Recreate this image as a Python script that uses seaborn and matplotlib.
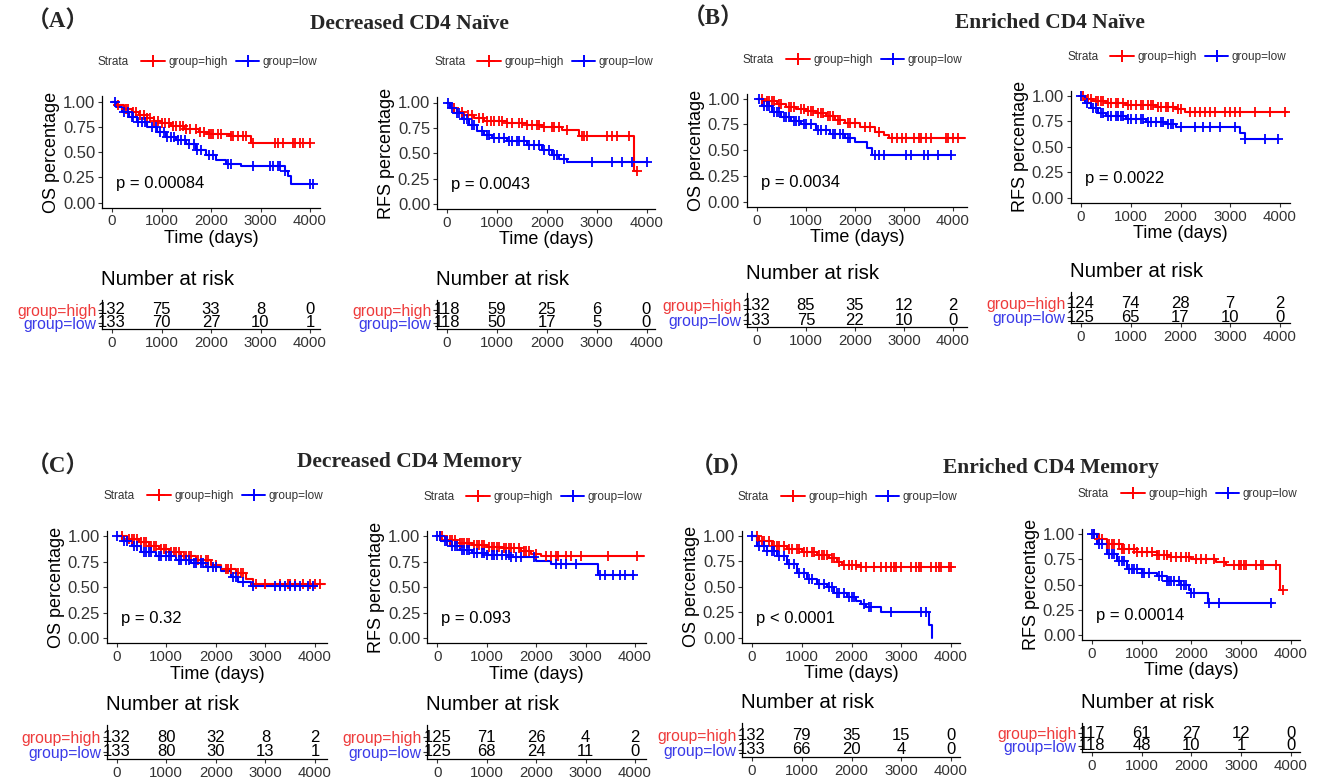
import numpy as np
import pandas as pd
import matplotlib
matplotlib.use("Agg")
import matplotlib.pyplot as plt
from matplotlib.lines import Line2D
import seaborn as sns

# ---------------- data ----------------
RISK_TIMES = [0, 1000, 2000, 3000, 4000]
GROUPS = ["group=high", "group=low"]
COLORS = ["#FF0000", "#0000FF"]

# (A) Decreased CD4 Naive - OS
A_OS_HI_T = [0, 100, 250, 400, 550, 700, 850, 1000, 1200, 1450, 1750, 1950, 2400, 2800, 4000]
A_OS_HI_S = [1.00, 0.97, 0.93, 0.90, 0.87, 0.84, 0.81, 0.79, 0.76, 0.73, 0.70, 0.68, 0.66, 0.59, 0.59]
A_OS_HI_C = [120, 280, 330, 420, 480, 560, 640, 700, 760, 850, 920, 1000, 1080, 1150, 1230, 1300, 1380,
             1430, 1500, 1580, 1700, 1780, 1850, 1950, 2000, 2050, 2150, 2200, 2400, 2450, 2550, 2650,
             2700, 2850, 3300, 3350, 3450, 3650, 3700, 3800, 3850, 4000]
A_OS_LO_T = [0, 80, 200, 350, 500, 700, 900, 1100, 1300, 1500, 1700, 1900, 2100, 2300, 2600, 3500, 3560, 3620, 4060]
A_OS_LO_S = [1.00, 0.95, 0.90, 0.85, 0.80, 0.75, 0.70, 0.65, 0.62, 0.58, 0.52, 0.47, 0.42, 0.38, 0.36, 0.31, 0.26, 0.18, 0.18]
A_OS_LO_C = [60, 250, 330, 400, 430, 520, 600, 660, 800, 880, 960, 1050, 1120, 1200, 1250, 1330, 1400,
             1480, 1550, 1650, 1720, 1800, 1950, 2050, 2350, 2400, 2850, 3200, 3250, 3350, 3400, 3500, 4000, 4060]
A_OS_RISK_HI = [132, 75, 33, 8, 0]
A_OS_RISK_LO = [133, 70, 27, 10, 1]

# (A) Decreased CD4 Naive - RFS
A_RFS_HI_T = [0, 80, 200, 350, 550, 750, 1200, 1600, 1900, 2300, 2650, 3750, 3800]
A_RFS_HI_S = [1.00, 0.95, 0.91, 0.88, 0.85, 0.82, 0.80, 0.78, 0.76, 0.73, 0.67, 0.33, 0.33]
A_RFS_HI_C = [150, 300, 420, 500, 650, 720, 800, 880, 950, 1050, 1100, 1200, 1300, 1450, 1500, 1600,
              1700, 1800, 1850, 1950, 2100, 2150, 2250, 2400, 2700, 2750, 2800, 3200, 3300, 3400, 3650, 3800]
A_RFS_LO_T = [0, 60, 150, 300, 450, 600, 750, 900, 1200, 1600, 1900, 2100, 2250, 2400, 4000]
A_RFS_LO_S = [1.00, 0.95, 0.90, 0.84, 0.78, 0.72, 0.68, 0.65, 0.62, 0.58, 0.53, 0.48, 0.44, 0.41, 0.41]
A_RFS_LO_C = [30, 100, 200, 250, 350, 400, 500, 550, 700, 800, 850, 950, 1050, 1150, 1250, 1300, 1400,
              1450, 1550, 1650, 1750, 1850, 1950, 2050, 2150, 2200, 2350, 2900, 3300, 3500, 3700, 4000]
A_RFS_RISK_HI = [118, 59, 25, 6, 0]
A_RFS_RISK_LO = [118, 50, 17, 5, 0]

# (B) Enriched CD4 Naive - OS
B_OS_HI_T = [0, 150, 400, 600, 800, 1000, 1200, 1400, 1600, 1800, 2100, 2400, 2600, 2700, 4250]
B_OS_HI_S = [1.00, 0.98, 0.95, 0.92, 0.90, 0.88, 0.86, 0.83, 0.79, 0.76, 0.73, 0.68, 0.65, 0.62, 0.62]
B_OS_HI_C = [100, 200, 250, 300, 350, 450, 500, 650, 700, 750, 900, 950, 1050, 1100, 1150, 1250, 1300,
             1350, 1450, 1500, 1550, 1650, 1700, 1850, 1900, 2000, 2200, 2300, 2500, 2750, 2850, 2950,
             3050, 3200, 3300, 3350, 3450, 3550, 3850, 3900, 4000, 4100]
B_OS_LO_T = [0, 100, 300, 500, 700, 900, 1200, 1500, 1800, 2000, 2250, 2350, 3950]
B_OS_LO_S = [1.00, 0.93, 0.87, 0.82, 0.78, 0.75, 0.70, 0.66, 0.62, 0.58, 0.52, 0.45, 0.45]
B_OS_LO_C = [50, 150, 200, 250, 350, 400, 450, 550, 600, 650, 750, 800, 850, 950, 1000, 1100, 1250,
             1300, 1400, 1550, 1600, 1700, 1750, 1850, 1900, 2400, 2500, 2600, 3050, 3150, 3400, 3500, 3700, 3950]
B_OS_RISK_HI = [132, 85, 35, 12, 2]
B_OS_RISK_LO = [133, 75, 22, 10, 0]

# (B) Enriched CD4 Naive - RFS
B_RFS_HI_T = [0, 100, 250, 500, 900, 1500, 1900, 2100, 4150]
B_RFS_HI_S = [1.00, 0.97, 0.95, 0.93, 0.91, 0.89, 0.87, 0.84, 0.84]
B_RFS_HI_C = [50, 150, 200, 300, 350, 400, 450, 550, 600, 700, 750, 850, 950, 1000, 1100, 1200, 1250,
              1350, 1400, 1450, 1550, 1600, 1700, 1750, 1850, 1950, 2000, 2200, 2300, 2400, 2500, 2600,
              2700, 2900, 3000, 3100, 3200, 3500, 3800, 4100]
B_RFS_LO_T = [0, 80, 200, 350, 500, 900, 1300, 1700, 1900, 3200, 3300, 3950]
B_RFS_LO_S = [1.00, 0.93, 0.88, 0.83, 0.80, 0.77, 0.74, 0.72, 0.69, 0.64, 0.58, 0.58]
B_RFS_LO_C = [0, 120, 250, 300, 400, 450, 550, 600, 700, 750, 800, 850, 950, 1000, 1100, 1200, 1250,
              1350, 1400, 1500, 1600, 1650, 1750, 1800, 1850, 2000, 2300, 2450, 2600, 2800, 3100, 3300, 3700, 3950]
B_RFS_RISK_HI = [124, 74, 28, 7, 2]
B_RFS_RISK_LO = [125, 65, 17, 10, 0]

# (C) Decreased CD4 Memory - OS
C_OS_HI_T = [0, 200, 450, 650, 850, 1050, 1300, 1600, 1900, 2100, 2400, 2600, 2750, 4200]
C_OS_HI_S = [1.00, 0.97, 0.94, 0.90, 0.87, 0.84, 0.80, 0.77, 0.72, 0.68, 0.64, 0.58, 0.53, 0.53]
C_OS_HI_C = [100, 250, 300, 350, 400, 500, 550, 600, 700, 750, 800, 900, 950, 1000, 1100, 1150, 1200,
             1250, 1350, 1400, 1450, 1500, 1650, 1700, 1800, 1850, 2000, 2200, 2250, 2300, 2450, 2500,
             2550, 2800, 3000, 3300, 3450, 3500, 3600, 3750, 3900, 4000, 4100]
C_OS_LO_T = [0, 100, 300, 500, 800, 1200, 1500, 1800, 2100, 2300, 2450, 2700, 4050]
C_OS_LO_S = [1.00, 0.95, 0.90, 0.84, 0.80, 0.77, 0.74, 0.70, 0.66, 0.60, 0.55, 0.51, 0.51]
C_OS_LO_C = [0, 150, 200, 350, 400, 550, 600, 650, 700, 850, 900, 1000, 1050, 1100, 1250, 1300, 1400,
             1450, 1550, 1600, 1700, 1750, 1850, 1950, 2000, 2350, 2400, 2550, 2750, 3200, 3300, 3400,
             3500, 3600, 3700, 3850, 3950]
C_OS_RISK_HI = [132, 80, 32, 8, 2]
C_OS_RISK_LO = [133, 80, 30, 13, 1]

# (C) Decreased CD4 Memory - RFS
C_RFS_HI_T = [0, 150, 400, 700, 1000, 1300, 1700, 1900, 2100, 4180]
C_RFS_HI_S = [1.00, 0.96, 0.93, 0.91, 0.89, 0.88, 0.85, 0.82, 0.80, 0.80]
C_RFS_HI_C = [50, 100, 200, 250, 300, 350, 450, 500, 550, 600, 650, 750, 800, 850, 900, 950, 1050, 1100,
              1150, 1200, 1250, 1350, 1400, 1450, 1500, 1550, 1650, 1750, 1800, 1850, 2000, 2200, 2300,
              2400, 2450, 2600, 2700, 2900, 3450, 4050]
C_RFS_LO_T = [0, 80, 250, 450, 700, 1000, 1500, 2000, 2300, 3250, 3980]
C_RFS_LO_S = [1.00, 0.95, 0.90, 0.86, 0.83, 0.81, 0.79, 0.76, 0.73, 0.62, 0.62]
C_RFS_LO_C = [0, 50, 150, 200, 300, 350, 400, 500, 550, 600, 650, 750, 800, 900, 950, 1000, 1100, 1150,
              1200, 1300, 1400, 1450, 1500, 1600, 1700, 1950, 2400, 2500, 2600, 2800, 3300, 3400, 3550,
              3700, 3800, 3950]
C_RFS_RISK_HI = [125, 71, 26, 4, 2]
C_RFS_RISK_LO = [125, 68, 24, 11, 0]

# (D) Enriched CD4 Memory - OS
D_OS_HI_T = [0, 150, 400, 700, 1000, 1300, 1550, 1700, 1800, 2200, 4000]
D_OS_HI_S = [1.00, 0.95, 0.90, 0.87, 0.84, 0.81, 0.78, 0.74, 0.71, 0.70, 0.70]
D_OS_HI_C = [100, 200, 250, 350, 450, 500, 550, 650, 750, 800, 900, 950, 1050, 1100, 1200, 1250, 1350,
             1400, 1450, 1500, 1600, 1650, 1750, 1850, 1950, 2000, 2100, 2200, 2300, 2450, 2600, 2700,
             2800, 2850, 2900, 3000, 3200, 3300, 3350, 3400, 3600, 3700, 3750, 3800, 3950, 4000]
D_OS_LO_T = [0, 100, 300, 500, 700, 900, 1100, 1300, 1500, 1650, 1900, 2100, 2200, 2300, 2600, 3560, 3620]
D_OS_LO_S = [1.00, 0.90, 0.85, 0.80, 0.72, 0.64, 0.58, 0.53, 0.50, 0.44, 0.40, 0.36, 0.33, 0.30, 0.25, 0.12, 0.00]
D_OS_LO_C = [0, 150, 250, 300, 400, 450, 550, 650, 750, 850, 950, 1050, 1150, 1200, 1350, 1450, 1550,
             1600, 1700, 1750, 1850, 1950, 2000, 2050, 2250, 2350, 2400, 2800, 3400, 3500]
D_OS_RISK_HI = [132, 79, 35, 15, 0]
D_OS_RISK_LO = [133, 66, 20, 4, 0]

# (D) Enriched CD4 Memory - RFS
D_RFS_HI_T = [0, 150, 300, 600, 900, 1300, 1600, 2000, 2500, 2700, 3780, 3850]
D_RFS_HI_S = [1.00, 0.95, 0.90, 0.85, 0.82, 0.79, 0.77, 0.75, 0.72, 0.70, 0.45, 0.45]
D_RFS_HI_C = [50, 150, 200, 300, 350, 400, 450, 550, 600, 650, 750, 850, 900, 1000, 1100, 1200, 1300,
              1350, 1450, 1500, 1600, 1700, 1800, 1900, 1950, 2100, 2200, 2300, 2450, 2650, 2850, 2950,
              3000, 3050, 3100, 3300, 3400, 3450, 3700, 3850]
D_RFS_LO_T = [0, 100, 300, 500, 700, 1000, 1300, 1500, 1800, 1950, 2000, 2330, 3650]
D_RFS_LO_S = [1.00, 0.90, 0.80, 0.73, 0.66, 0.62, 0.59, 0.54, 0.50, 0.45, 0.42, 0.32, 0.32]
D_RFS_LO_C = [0, 50, 150, 200, 350, 400, 450, 550, 600, 650, 750, 800, 850, 900, 1000, 1050, 1150, 1350,
              1400, 1500, 1550, 1600, 1650, 1750, 1800, 1850, 1900, 2000, 2050, 2350, 2550, 3600]
D_RFS_RISK_HI = [117, 61, 27, 12, 0]
D_RFS_RISK_LO = [118, 48, 10, 1, 0]

# ---------------- layout (pixel positions in the 1317x781 canvas) ----------------
PANELS = [
    dict(ylab="OS percentage", p="p = 0.00084", x0=112, x4=310, tmax=4000, y1=101.5, y0=202.5,
         rows=(310, 323), leg=(98, 62),
         hi=(A_OS_HI_T, A_OS_HI_S, A_OS_HI_C), lo=(A_OS_LO_T, A_OS_LO_S, A_OS_LO_C),
         risk=(A_OS_RISK_HI, A_OS_RISK_LO)),
    dict(ylab="RFS percentage", p="p = 0.0043", x0=447, x4=646.5, tmax=3970, y1=102.5, y0=204,
         rows=(310, 323), leg=(434, 62),
         hi=(A_RFS_HI_T, A_RFS_HI_S, A_RFS_HI_C), lo=(A_RFS_LO_T, A_RFS_LO_S, A_RFS_LO_C),
         risk=(A_RFS_RISK_HI, A_RFS_RISK_LO)),
    dict(ylab="OS percentage", p="p = 0.0034", x0=757, x4=953, tmax=4080, y1=98.7, y0=201.7,
         rows=(305, 320), leg=(743, 60),
         hi=(B_OS_HI_T, B_OS_HI_S, B_OS_HI_C), lo=(B_OS_LO_T, B_OS_LO_S, B_OS_LO_C),
         risk=(B_OS_RISK_HI, B_OS_RISK_LO)),
    dict(ylab="RFS percentage", p="p = 0.0022", x0=1081, x4=1280, tmax=4000, y1=95.7, y0=198,
         rows=(303, 317), leg=(1067, 57),
         hi=(B_RFS_HI_T, B_RFS_HI_S, B_RFS_HI_C), lo=(B_RFS_LO_T, B_RFS_LO_S, B_RFS_LO_C),
         risk=(B_RFS_RISK_HI, B_RFS_RISK_LO)),
    dict(ylab="OS percentage", p="p = 0.32", x0=116.7, x4=315, tmax=4040, y1=536, y0=638.3,
         rows=(737, 752), leg=(104, 496),
         hi=(C_OS_HI_T, C_OS_HI_S, C_OS_HI_C), lo=(C_OS_LO_T, C_OS_LO_S, C_OS_LO_C),
         risk=(C_OS_RISK_HI, C_OS_RISK_LO)),
    dict(ylab="RFS percentage", p="p = 0.093", x0=437.3, x4=635, tmax=4020, y1=536, y0=638.3,
         rows=(737, 752), leg=(423, 497),
         hi=(C_RFS_HI_T, C_RFS_HI_S, C_RFS_HI_C), lo=(C_RFS_LO_T, C_RFS_LO_S, C_RFS_LO_C),
         risk=(C_RFS_RISK_HI, C_RFS_RISK_LO)),
    dict(ylab="OS percentage", p="p < 0.0001", x0=752, x4=951, tmax=3980, y1=536, y0=637.7,
         rows=(735, 750), leg=(738, 497),
         hi=(D_OS_HI_T, D_OS_HI_S, D_OS_HI_C), lo=(D_OS_LO_T, D_OS_LO_S, D_OS_LO_C),
         risk=(D_OS_RISK_HI, D_OS_RISK_LO)),
    dict(ylab="RFS percentage", p="p = 0.00014", x0=1092, x4=1290.7, tmax=3990, y1=534.3, y0=635,
         rows=(733, 746), leg=(1078, 494),
         hi=(D_RFS_HI_T, D_RFS_HI_S, D_RFS_HI_C), lo=(D_RFS_LO_T, D_RFS_LO_S, D_RFS_LO_C),
         risk=(D_RFS_RISK_HI, D_RFS_RISK_LO)),
]

TITLES = [("Decreased CD4 Naïve", 409, 24), ("Enriched CD4 Naïve", 1050, 23),
          ("Decreased CD4 Memory", 409, 462), ("Enriched CD4 Memory", 1051, 468)]
TAGS = [("（A）", 58, 22), ("（B）", 713, 19), ("（C）", 58, 467), ("（D）", 722, 468)]

# ---------------- drawing ----------------
sns.set_theme(style="ticks")
plt.rcParams["font.family"] = ["Liberation Sans", "DejaVu Sans"]
SERIF = ["Liberation Serif", "Noto Sans CJK SC", "DejaVu Serif"]
TXT = "#333333"

W, H = 1317, 781
fig = plt.figure(figsize=(W / 100, H / 100), dpi=100)
fig.patch.set_facecolor("white")


def px_axes(left, top, right, bottom):
    return fig.add_axes([left / W, 1 - bottom / H, (right - left) / W, (bottom - top) / H])


def step_at(t, s, c):
    idx = np.searchsorted(np.asarray(t), np.asarray(c), side="right") - 1
    return np.asarray(s)[idx]


def style_axis(ax):
    for side in ("left", "bottom"):
        ax.spines[side].set_color("black")
        ax.spines[side].set_linewidth(0.9)
    ax.tick_params(length=3, width=0.8, color="#333333", pad=2)
    sns.despine(ax=ax)


for p in PANELS:
    sc = (p["x4"] - p["x0"]) / 4000
    xl = (-0.05 * p["tmax"], 1.05 * p["tmax"])
    left, right = p["x0"] + xl[0] * sc, p["x0"] + xl[1] * sc
    ys = p["y0"] - p["y1"]

    # survival curves
    ax = px_axes(left, p["y1"] - 0.05 * ys, right, p["y0"] + 0.05 * ys)
    for (t, s, c), col in zip((p["hi"], p["lo"]), COLORS):
        df = pd.DataFrame({"time": t, "surv": s})
        sns.lineplot(data=df, x="time", y="surv", drawstyle="steps-post", estimator=None,
                     sort=False, color=col, lw=1.5, ax=ax)
        cf = pd.DataFrame({"time": c, "surv": step_at(t, s, c)})
        sns.scatterplot(data=cf, x="time", y="surv", marker="+", s=60, color=col,
                        linewidth=1.3, ax=ax, zorder=3)
    ax.set_xlim(xl)
    ax.set_ylim(-0.05, 1.05)
    ax.set_xticks(RISK_TIMES)
    ax.set_yticks([0, 0.25, 0.5, 0.75, 1.0])
    ax.set_yticklabels(["0.00", "0.25", "0.50", "0.75", "1.00"])
    style_axis(ax)
    ax.tick_params(axis="x", labelsize=10.8, labelcolor=TXT)
    ax.tick_params(axis="y", labelsize=12, labelcolor=TXT)
    ax.set_xlabel("Time (days)", fontsize=13, labelpad=1, color="black")
    ax.set_ylabel(p["ylab"], fontsize=13, labelpad=2, color="black")
    ax.text(0.02 * p["tmax"], 0.19, p["p"], fontsize=12, ha="left", va="center", color="black")

    # legend row: Strata  + group=high  + group=low
    lx, ly = p["leg"]
    fig.text(lx / W, 1 - ly / H, "Strata", fontsize=8.5, ha="left", va="center", color=TXT)
    handles = [Line2D([], [], color=c, lw=1.4, marker="+", markersize=8, mew=1.4) for c in COLORS]
    fig.legend(handles, GROUPS, loc="center left", bbox_to_anchor=((lx + 43) / W, 1 - ly / H),
               ncol=2, frameon=False, fontsize=8.5, handlelength=2.0, handletextpad=0.3,
               columnspacing=0.7, borderpad=0, borderaxespad=0, labelcolor=TXT)

    # number at risk table
    r_hi, r_lo = p["rows"]
    gap = r_lo - r_hi
    tab = px_axes(left, r_hi - 0.8 * gap, right, r_lo + 0.45 * gap)
    for vals, yv in zip(p["risk"], (2, 1)):
        for tx, v in zip(RISK_TIMES, vals):
            tab.text(tx, yv, str(v), ha="center", va="center", fontsize=12, color="black")
    tab.set_xlim(xl)
    tab.set_ylim(0.55, 2.8)
    tab.set_xticks(RISK_TIMES)
    tab.set_yticks([2, 1])
    tab.set_yticklabels(GROUPS)
    style_axis(tab)
    tab.tick_params(axis="x", labelsize=10.8, labelcolor=TXT)
    tab.tick_params(axis="y", labelsize=11.3, pad=1)
    for lab, col in zip(tab.get_yticklabels(), ["#EE3B3B", "#3A3AE8"]):
        lab.set_color(col)
    tab.annotate("Number at risk", xy=(0, 1), xycoords="axes fraction", xytext=(-1, 20),
                 textcoords="offset pixels", ha="left", va="center", fontsize=14.8, color="black")

for text, x, y in TITLES:
    fig.text(x / W, 1 - y / H, text, ha="center", va="center", fontsize=15.5,
             fontweight="bold", family=SERIF)
for text, x, y in TAGS:
    fig.text(x / W, 1 - y / H, text, ha="center", va="center", fontsize=16.5,
             fontweight="bold", family=SERIF)

fig.savefig("out.png", dpi=100, facecolor="white")
